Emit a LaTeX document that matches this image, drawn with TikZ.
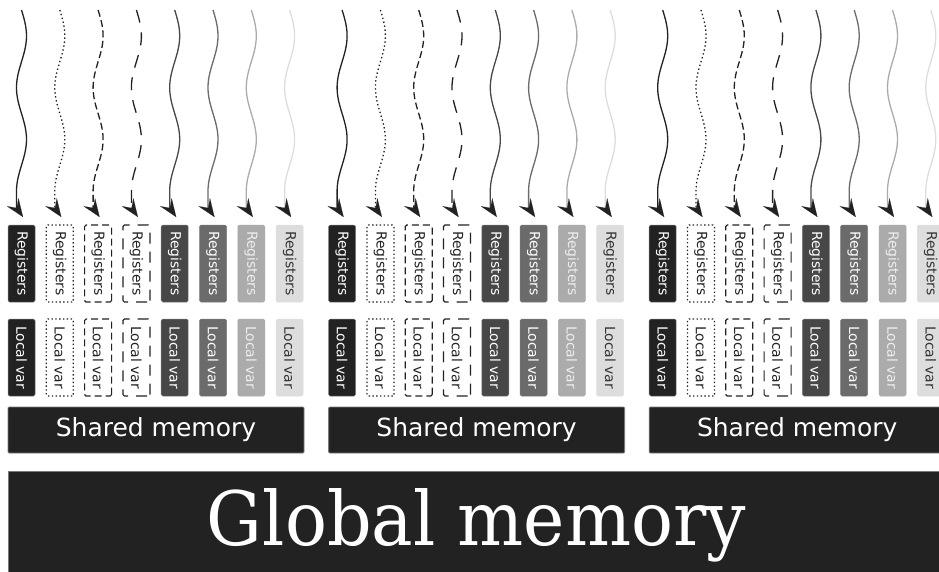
\documentclass[tikz,border=0pt]{standalone}
\usepackage{fontspec}
\setmainfont{DejaVu Sans}
\newfontfamily\globalfont[FakeStretch=0.93]{DejaVu Serif}
\usetikzlibrary{arrows.meta,calc}

\definecolor{ink}{HTML}{222222}
\definecolor{edge}{HTML}{7A7A7A}
\definecolor{c5}{HTML}{474747}
\definecolor{c6}{HTML}{6B6B6B}
\definecolor{c7}{HTML}{ABABAB}
\definecolor{c8}{HTML}{DDDDDD}
\definecolor{t7}{HTML}{EEEEEE}
\definecolor{t8}{HTML}{333333}

\tikzset{
  cell/.style={rotate=-90, minimum width=77pt, minimum height=27pt, inner sep=0pt,
    rounded corners=1.5pt, line width=1.2pt, font=\fontsize{13.9}{16}\selectfont},
  box1/.style={fill=ink, draw=edge, line width=0.5pt, text=white},
  box2/.style={draw=ink, dash pattern=on 1.4pt off 2.4pt, text=ink},
  box3/.style={draw=ink, dash pattern=on 7pt off 4pt, text=ink},
  box4/.style={draw=ink, dash pattern=on 11pt off 8pt, text=ink},
  box5/.style={fill=c5, draw=edge, line width=0.5pt, text=white},
  box6/.style={fill=c6, draw=edge, line width=0.5pt, text=white},
  box7/.style={fill=c7, draw=c7, line width=0.5pt, text=t7},
  box8/.style={fill=c8, draw=c8, line width=0.5pt, text=t8},
  wave/.style={line width=1.3pt},
  wave1/.style={wave, draw=ink},
  wave2/.style={wave, draw=ink, dash pattern=on 1.4pt off 2.6pt},
  wave3/.style={wave, draw=ink, dash pattern=on 7pt off 3.5pt},
  wave4/.style={wave, draw=ink, dash pattern=on 13pt off 10pt},
  wave5/.style={wave, draw=c5},
  wave6/.style={wave, draw=c6},
  wave7/.style={wave, draw=c7},
  wave8/.style={wave, draw=c8},
  % arrowhead that closes every thread, turned slightly to the right
  threadtip/.style={draw=ink, line width=0.1pt,
    -{Stealth[length=18pt, width=14pt, inset=7pt, color=ink]}},
  slab/.style={fill=ink, draw=edge, line width=0.8pt, inner sep=0pt, text=white},
}

\begin{document}
\begin{tikzpicture}[x=1pt, y=-1pt]
  \useasboundingbox (0,0) rectangle (939,571);
  \clip (0,0) rectangle (939,571);

  % three blocks, eight threads each
  \foreach \g in {0,1,2} {
    \pgfmathsetmacro{\gx}{8 + 320.6*\g}
    \foreach \i in {1,...,8} {
      \pgfmathsetmacro{\cx}{\gx + 13.5 + 38.3*(\i-1)}
      \coordinate (src-\g-\i) at (\cx, 10);
      \coordinate (tip-\g-\i) at (\cx + 1.5, 217);
      % wavy thread
      \draw[wave\i, shift={(src-\g-\i)}]
        plot[domain=0:0.875, samples=70, smooth] ({5*sin(720*\x)}, {207*\x})
        -- (-5, 198);
      \draw[threadtip] ($(tip-\g-\i)+(-0.57,-0.82)$) -- (tip-\g-\i);
      \node[cell, box\i] (reg-\g-\i) at (\cx, 263.5) {Registers};
      \node[cell, box\i] (loc-\g-\i) at (\cx, 357.5) {Local var};
    }
    \node[slab, minimum width=296pt, minimum height=46pt,
          font=\fontsize{25}{30}\selectfont, rounded corners=1pt]
      (sh-\g) at (\gx + 148, 430) {Shared memory};
  }

  \node[slab, minimum width=937pt, minimum height=109pt,
        font=\globalfont\fontsize{75}{80}\selectfont]
    (global) at (476.5, 525.5) {Global memory};
\end{tikzpicture}
\end{document}
